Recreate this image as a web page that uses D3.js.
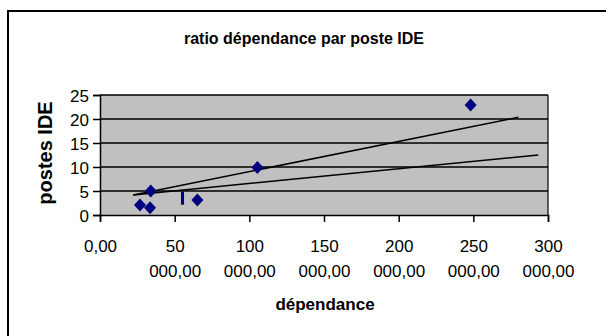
<!DOCTYPE html>
<html><head><meta charset="utf-8">
<script src="https://cdnjs.cloudflare.com/ajax/libs/d3/7.8.5/d3.min.js"></script>
<style>body{margin:0;background:#fff}svg{display:block}text{font-family:"Liberation Sans",Arial,sans-serif}</style>
</head><body><svg id="c" width="606" height="336"></svg>
<script>
const title = "ratio dépendance par poste IDE";
const xTitle = "dépendance";
const yTitle = "postes IDE";
const dependance = [26800, 33500, 34000, 65200, 105400, 248200];
const postes = [2.1, 1.5, 5.0, 3.1, 9.9, 22.9];
const oddMarkX = [55250];
const oddMarkY = [3.5];
const trend1X = [22300, 280100];
const trend1Y = [4.17, 20.35];
const trend2X = [22300, 293500];
const trend2Y = [4.17, 12.5];
const xTicks = [0, 50000, 100000, 150000, 200000, 250000, 300000];
const xTickLines = [["0,00"], ["50","000,00"], ["100","000,00"], ["150","000,00"], ["200","000,00"], ["250","000,00"], ["300","000,00"]];
const yTicks = [0, 5, 10, 15, 20, 25];

const svg = d3.select("#c");
const L = 100, R = 548, T = 95, B = 215;
const x = d3.scaleLinear().domain([0, 300000]).range([L, R]);
const y = d3.scaleLinear().domain([0, 25]).range([B, T]);

svg.append("rect").attr("x", 8).attr("y", 11).attr("width", 700).attr("height", 400)
  .attr("fill", "#fff").attr("stroke", "#000").attr("stroke-width", 2);

svg.append("text").attr("x", 304).attr("y", 44).attr("text-anchor", "middle")
  .attr("font-size", 16).attr("font-weight", "bold").text(title);

svg.append("rect").attr("x", L).attr("y", T).attr("width", R - L).attr("height", B - T)
  .attr("fill", "#c0c0c0");

// gridlines
svg.append("g").selectAll("line").data(yTicks.slice(1)).join("line")
  .attr("x1", L).attr("x2", R).attr("y1", d => y(d)).attr("y2", d => y(d))
  .attr("stroke", "#000").attr("stroke-width", 1.5);
svg.append("line").attr("x1", R).attr("x2", R).attr("y1", T).attr("y2", B)
  .attr("stroke", "#000").attr("stroke-width", 1.2);

// axes
const yAxis = d3.axisLeft(y).tickValues(yTicks).tickSize(7).tickFormat(d3.format("d"));
const gy = svg.append("g").attr("transform", `translate(${L},0)`).call(yAxis);
gy.select(".domain").attr("stroke-width", 1.5);
gy.selectAll(".tick line").attr("stroke-width", 1.5);
gy.selectAll("text").attr("font-size", 17).attr("x", -11).attr("dy", "0.36em")
  .attr("font-family", "Liberation Sans, Arial, sans-serif").attr("fill", "#000");

const xAxis = d3.axisBottom(x).tickValues(xTicks).tickSize(7).tickFormat("");
const gx = svg.append("g").attr("transform", `translate(0,${B})`).call(xAxis);
gx.select(".domain").attr("stroke-width", 1.5);
gx.selectAll(".tick line").attr("stroke-width", 1.5);
gx.selectAll(".tick").each(function(d, i) {
  const t = d3.select(this).append("text").attr("fill", "#000").attr("text-anchor", "middle")
    .attr("font-size", 17).attr("font-family", "Liberation Sans, Arial, sans-serif");
  xTickLines[i].forEach((s, j) => {
    t.append("tspan").attr("x", 0).attr("y", 37 + j * 25).text(s);
  });
});

svg.append("text").attr("x", 325).attr("y", 310).attr("text-anchor", "middle")
  .attr("font-size", 17).attr("font-weight", "bold").text(xTitle);
svg.append("text").attr("transform", "translate(52,153) rotate(-90)").attr("text-anchor", "middle")
  .attr("font-size", 20).attr("font-weight", "bold").text(yTitle);

// trend lines
const line = d3.line().x(d => x(d[0])).y(d => y(d[1]));
svg.append("path").datum(d3.zip(trend1X, trend1Y)).attr("d", line)
  .attr("fill", "none").attr("stroke", "#000").attr("stroke-width", 1.5);
svg.append("path").datum(d3.zip(trend2X, trend2Y)).attr("d", line)
  .attr("fill", "none").attr("stroke", "#000").attr("stroke-width", 1.5);

// points
const pts = d3.zip(dependance, postes);
svg.append("g").selectAll("path").data(pts).join("path")
  .attr("transform", d => `translate(${x(d[0])},${y(d[1])})`)
  .attr("d", "M0,-6.5L6,0L0,6.5L-6,0Z").attr("fill", "#000080");
svg.append("g").selectAll("rect").data(d3.zip(oddMarkX, oddMarkY)).join("rect")
  .attr("x", d => x(d[0]) - 1.5).attr("y", d => y(d[1]) - 6.5)
  .attr("width", 3).attr("height", 13).attr("fill", "#000080");
</script></body></html>
